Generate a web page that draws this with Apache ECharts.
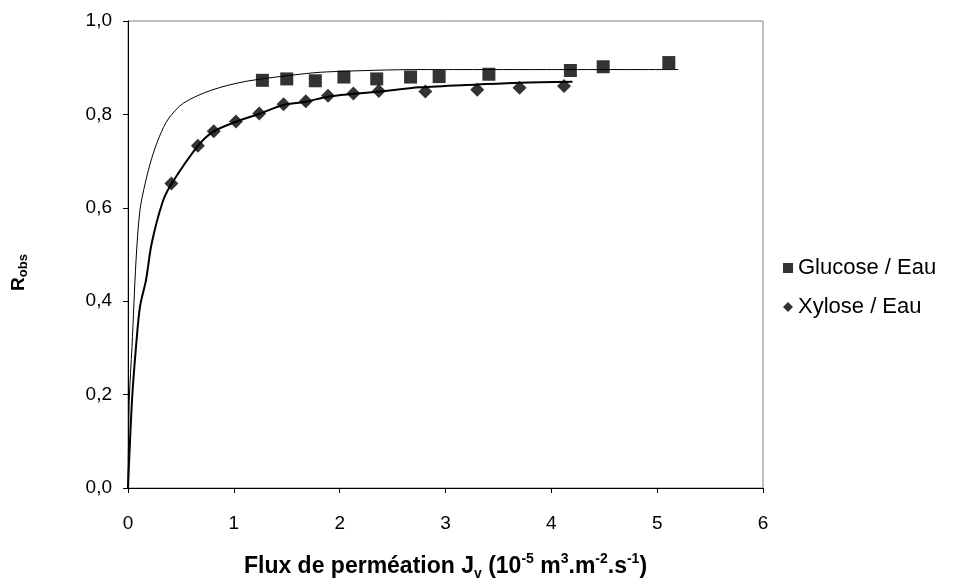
<!DOCTYPE html>
<html>
<head>
<meta charset="utf-8">
<script src="https://cdn.jsdelivr.net/npm/echarts@6/dist/echarts.min.js"></script>
<style>html,body{margin:0;padding:0;background:#fff}#c{width:979px;height:583px}</style>
</head>
<body>
<div id="c"></div>
<script>
// Measured points
var glucoseX = [1.27, 1.50, 1.77, 2.04, 2.35, 2.67, 2.94, 3.41, 4.18, 4.49, 5.11];
var glucoseY = [0.873, 0.876, 0.872, 0.880, 0.876, 0.880, 0.881, 0.886, 0.894, 0.902, 0.911];
var xyloseX = [0.41, 0.66, 0.81, 1.02, 1.24, 1.47, 1.68, 1.89, 2.13, 2.37, 2.81, 3.30, 3.70, 4.12];
var xyloseY = [0.652, 0.733, 0.764, 0.785, 0.802, 0.822, 0.828, 0.840, 0.845, 0.850, 0.849, 0.853, 0.857, 0.861];
// Fitted curves
var glucoseFitX = [0, 0.012, 0.038, 0.076, 0.113, 0.165, 0.224, 0.296, 0.38, 0.523, 0.79, 1.12, 1.625, 1.877, 2.76, 5.2];
var glucoseFitY = [0, 0.188, 0.303, 0.488, 0.595, 0.655, 0.706, 0.752, 0.790, 0.824, 0.852, 0.871, 0.886, 0.891, 0.896, 0.896];
var xyloseFitX = [0, 0.038, 0.076, 0.113, 0.17, 0.224, 0.328, 0.413, 0.659, 0.806, 1.017, 1.238, 1.468, 1.68, 1.887, 2.135, 2.375, 2.76, 3.3, 3.7, 4.2];
var xyloseFitY = [0, 0.188, 0.303, 0.388, 0.445, 0.524, 0.613, 0.652, 0.732, 0.763, 0.784, 0.801, 0.820, 0.827, 0.838, 0.844, 0.849, 0.858, 0.864, 0.868, 0.870];
var xTicks = [0, 1, 2, 3, 4, 5, 6];
var yTicks = [0, 0.2, 0.4, 0.6, 0.8, 1.0];

function zip(a, b) { return a.map(function (v, i) { return [v, b[i]]; }); }

var chart = echarts.init(document.getElementById('c'));
var font = 'Liberation Sans, Arial, sans-serif';
chart.setOption({
  animation: false,
  backgroundColor: '#fff',
  grid: { left: 128, right: 216, top: 21, bottom: 95, containLabel: false, outerBoundsMode: 'none',
    show: true, borderColor: '#808080', borderWidth: 1, backgroundColor: 'transparent' },
  xAxis: {
    type: 'value', min: xTicks[0], max: xTicks[xTicks.length - 1], interval: 1,
    axisLine: { show: true, lineStyle: { color: '#000', width: 1 } },
    axisTick: { show: true, length: 5, lineStyle: { color: '#000' } },
    splitLine: { show: false },
    axisLabel: { color: '#000', fontSize: 19, fontFamily: font, margin: 26 },
    name: '{b|Flux de perméation J}{bs|v}{b| (10}{bp|-5}{b| m}{bp|3}{b|.m}{bp|-2}{b|.s}{bp|-1}{b|)}',
    nameLocation: 'middle', nameGap: 64,
    nameTextStyle: {
      rich: {
        b: { fontSize: 23, fontWeight: 'bold', fontFamily: font, color: '#000', lineHeight: 29, verticalAlign: 'middle' },
        bs: { fontSize: 14, fontWeight: 'bold', fontFamily: font, color: '#000', lineHeight: 13, verticalAlign: 'bottom' },
        bp: { fontSize: 14, fontWeight: 'bold', fontFamily: font, color: '#000', lineHeight: 13, verticalAlign: 'top' }
      }
    }
  },
  yAxis: {
    type: 'value', min: yTicks[0], max: yTicks[yTicks.length - 1], interval: 0.2,
    axisLine: { show: true, lineStyle: { color: '#000', width: 1 } },
    axisTick: { show: true, length: 5, lineStyle: { color: '#000' } },
    splitLine: { show: false },
    axisLabel: { color: '#000', fontSize: 19, fontFamily: font, margin: 16,
      formatter: function (v) { return v.toFixed(1).replace('.', ','); } },
    name: '{b|R}{bs|obs}', nameLocation: 'middle', nameGap: 98, nameRotate: 90,
    nameTextStyle: {
      padding: [0, 36, 0, 0],
      rich: {
        b: { fontSize: 19, fontWeight: 'bold', fontFamily: font, color: '#000', lineHeight: 22, verticalAlign: 'middle' },
        bs: { fontSize: 13, fontWeight: 'bold', fontFamily: font, color: '#000', lineHeight: 12, verticalAlign: 'bottom' }
      }
    }
  },
  legend: {
    orient: 'vertical', left: 778, top: 252, itemGap: 17, itemWidth: 10, itemHeight: 10,
    textStyle: { fontSize: 22, fontFamily: font, color: '#000', padding: [0, 0, 0, 0] },
    data: [
      { name: 'Glucose / Eau', icon: 'rect' },
      { name: 'Xylose / Eau', icon: 'diamond' }
    ]
  },
  series: [
    { name: 'Glucose fit', type: 'line', data: zip(glucoseFitX, glucoseFitY), showSymbol: false, symbol: 'none', smooth: 0.3,
      lineStyle: { color: '#000', width: 1 }, z: 2, silent: true },
    { name: 'Xylose fit', type: 'line', data: zip(xyloseFitX, xyloseFitY), showSymbol: false, symbol: 'none', smooth: 0.3,
      lineStyle: { color: '#000', width: 2 }, z: 2, silent: true },
    { name: 'Glucose / Eau', type: 'scatter', data: zip(glucoseX, glucoseY), symbol: 'rect', symbolSize: 13,
      itemStyle: { color: '#000' }, z: 3 },
    { name: 'Xylose / Eau', type: 'scatter', data: zip(xyloseX, xyloseY), symbol: 'diamond', symbolSize: 14,
      itemStyle: { color: '#000' }, z: 3 }
  ]
});
</script>
</body>
</html>
